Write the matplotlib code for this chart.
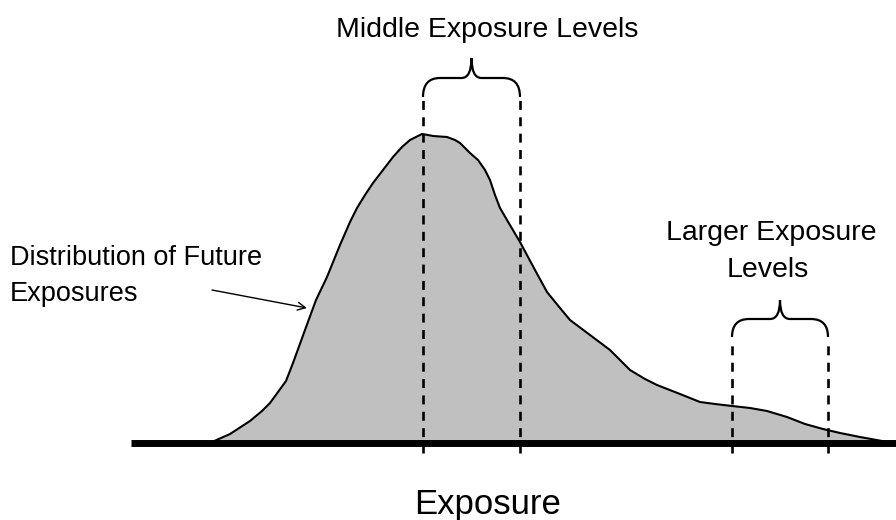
import matplotlib
matplotlib.use("Agg")
import matplotlib.pyplot as plt
from matplotlib.path import Path
from matplotlib.patches import PathPatch

plt.rcParams['font.family'] = ['Liberation Sans', 'DejaVu Sans']

# ---- data (exposure axis units, density measured up from the baseline) ----
exposure = [212, 230, 250, 262, 270, 278, 286, 293, 305, 316, 327, 340, 350, 357,
            365, 373, 383, 393, 402, 410, 416, 422, 428, 433, 440, 447, 455, 460,
            470, 478, 485, 490, 495, 500, 507, 520, 535, 547, 560, 570,
            590, 610, 630, 645, 657, 680, 700, 715, 732, 750, 767, 787, 805, 823,
            840, 860, 893]
density = [1, 9, 22, 32, 40, 51, 62, 80, 113, 143, 166, 198, 221, 235,
           248, 260, 273, 286, 296, 303, 306, 309, 308, 307, 306.5, 306, 303, 300,
           290, 283, 273, 263, 248, 235, 223, 201, 173, 151, 135, 123,
           108, 93, 73, 64, 58, 49, 41, 39, 37, 35, 32, 26, 19, 14,
           10, 6, 0]

middle_range = [423, 520]
larger_range = [732, 828]

title_middle = "Middle Exposure Levels"
title_larger = ["Larger Exposure", "Levels"]
dist_label = ["Distribution of Future", "Exposures"]
x_label = "Exposure"

# ---- figure ----
fig = plt.figure(figsize=(8.96, 5.2), dpi=100)
ax = fig.add_axes([0, 0, 1, 1])
ax.set_xlim(0, 896)
ax.set_ylim(-77, 443)
ax.axis('off')

ax.fill_between(exposure, 0, density, color='#c0c0c0', zorder=1, linewidth=0)
ax.plot(exposure, density, color='black', lw=1.5, zorder=2, solid_joinstyle='round')

# baseline
ax.plot([131, 896], [0, 0], color='black', lw=5, solid_capstyle='butt', zorder=4)

# dashed verticals
dash = (0, (3.4, 2.8))
ax.vlines(middle_range, -10, 346, colors='black', lw=1.9, linestyles=[dash], zorder=3)
ax.vlines(larger_range, -10, 103, colors='black', lw=1.9, linestyles=[dash], zorder=3)


def brace(x0, x1, y_end, y_h, y_tip, r=17, t=10):
    xm = (x0 + x1) / 2
    verts = [(x0, y_end), (x0, y_h), (x0 + r, y_h),
             (xm - t, y_h),
             (xm, y_h), (xm, y_tip),
             (xm, y_h), (xm + t, y_h),
             (x1 - r, y_h),
             (x1, y_h), (x1, y_end)]
    codes = [Path.MOVETO, Path.CURVE3, Path.CURVE3,
             Path.LINETO,
             Path.CURVE3, Path.CURVE3,
             Path.CURVE3, Path.CURVE3,
             Path.LINETO,
             Path.CURVE3, Path.CURVE3]
    ax.add_patch(PathPatch(Path(verts, codes), fill=False, lw=1.6,
                           edgecolor='black', zorder=3, capstyle='butt'))


brace(middle_range[0], middle_range[1], 346, 365, 385)
brace(larger_range[0], larger_range[1], 106, 124, 143)

# texts
ax.text(487, 406, title_middle, ha='center', va='baseline', fontsize=20.5)
ax.text(771, 203, title_larger[0], ha='center', va='baseline', fontsize=20.5)
ax.text(768, 166, title_larger[1], ha='center', va='baseline', fontsize=20.5)
ax.text(10, 178, dist_label[0], ha='left', va='baseline', fontsize=19.5)
ax.text(10, 142, dist_label[1], ha='left', va='baseline', fontsize=19.5)
ax.text(488, -71, x_label, ha='center', va='baseline', fontsize=25)

ax.annotate('', xy=(307, 135), xytext=(212, 153),
            arrowprops=dict(arrowstyle='->', lw=1.0, color='black',
                            mutation_scale=14, shrinkA=0, shrinkB=0))

fig.savefig('out.png', dpi=100)
